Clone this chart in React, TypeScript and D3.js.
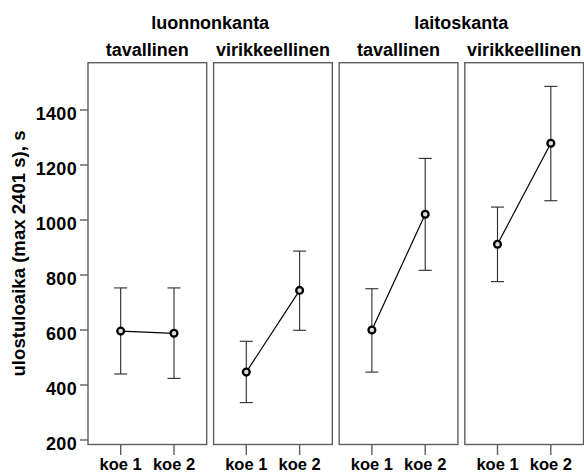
import React from "react";
import * as d3 from "d3";

const groups = ["luonnonkanta", "laitoskanta"];
const panels = ["luonnonkanta|tavallinen", "luonnonkanta|virikkeellinen", "laitoskanta|tavallinen", "laitoskanta|virikkeellinen"];
const panelLabels = ["tavallinen", "virikkeellinen", "tavallinen", "virikkeellinen"];
const trials = ["koe 1", "koe 2"];
const yTicks = [200, 400, 600, 800, 1000, 1200, 1400];

// per panel: [koe1, koe2]
const means = [
  [596, 588],
  [447, 744],
  [600, 1021],
  [912, 1279],
];
const upper = [
  [753, 753],
  [559, 887],
  [750, 1224],
  [1047, 1486],
];
const lower = [
  [440, 424],
  [336, 599],
  [447, 817],
  [776, 1070],
];

const W = 584;
const H = 474;
const top = 62.7;
const bottom = 444.5;
const left = 88;
const right = 583.5;
const font = "'Liberation Sans', Arial, sans-serif";
const frameColor = "#5e5e5e";

export default function App() {
  const y = d3.scaleLinear().domain([200, 1400]).range([440, 110]);
  const px = d3.scaleBand<string>().domain(panels).range([left, right]).paddingInner(0.055).paddingOuter(0);
  const bw = px.bandwidth();
  const ix = d3.scalePoint<string>().domain(trials).range([0, bw]).padding(0.613);
  const line = d3.line<[number, number]>().x((d) => d[0]).y((d) => d[1]);

  return (
    <svg width={W} height={H} style={{ position: "absolute", left: 0, top: 0, background: "#fff" }} fontFamily={font}>
      <rect x={0} y={0} width={W} height={H} fill="#fff" />
      {groups.map((g, gi) => {
        const x0 = px(panels[gi * 2])!;
        const x1 = px(panels[gi * 2 + 1])! + bw;
        return (
          <text key={g} x={(x0 + x1) / 2} y={29.3} textAnchor="middle" fontSize={18} fontWeight="bold" fill="#000">
            {g}
          </text>
        );
      })}
      {panels.map((p, pi) => {
        const x0 = px(p)!;
        const pts: [number, number][] = trials.map((t, ti) => [x0 + ix(t)!, y(means[pi][ti])]);
        return (
          <g key={p}>
            <text x={x0 + bw / 2} y={56} textAnchor="middle" fontSize={18} fontWeight="bold" fill="#000">
              {panelLabels[pi]}
            </text>
            <rect x={x0} y={top} width={bw} height={bottom - top} fill="none" stroke={frameColor} strokeWidth={1.4} />
            {trials.map((t, ti) => {
              const cx = x0 + ix(t)!;
              return (
                <g key={t}>
                  <line x1={cx} x2={cx} y1={bottom} y2={bottom + 10.5} stroke={frameColor} strokeWidth={1.4} />
                  <text x={cx} y={470} textAnchor="middle" fontSize={16.5} fontWeight="bold" fill="#000">
                    {t}
                  </text>
                  <g stroke="#2a2a2a" strokeWidth={1.1}>
                    <line x1={cx} x2={cx} y1={y(upper[pi][ti])} y2={y(lower[pi][ti])} />
                    <line x1={cx - 6.5} x2={cx + 6.5} y1={y(upper[pi][ti])} y2={y(upper[pi][ti])} />
                    <line x1={cx - 6.5} x2={cx + 6.5} y1={y(lower[pi][ti])} y2={y(lower[pi][ti])} />
                  </g>
                </g>
              );
            })}
            <path d={line(pts)!} fill="none" stroke="#000" strokeWidth={1.2} />
            {pts.map((d, i) => (
              <circle key={i} cx={d[0]} cy={d[1]} r={3.4} fill="#ddd" stroke="#000" strokeWidth={2.3} />
            ))}
          </g>
        );
      })}
      {yTicks.map((t) => (
        <g key={t}>
          <line x1={80} x2={left} y1={y(t)} y2={y(t)} stroke={frameColor} strokeWidth={1.4} />
          <text x={77} y={y(t) + 9.5} textAnchor="end" fontSize={18} fontWeight="bold" fill="#000" letterSpacing={0.3}>
            {t}
          </text>
        </g>
      ))}
      <text
        transform={`translate(25,253.5) rotate(-90)`}
        textAnchor="middle"
        fontSize={18.6}
        fontWeight="bold"
        fill="#000"
      >
        ulostuloaika (max 2401 s), s
      </text>
    </svg>
  );
}
